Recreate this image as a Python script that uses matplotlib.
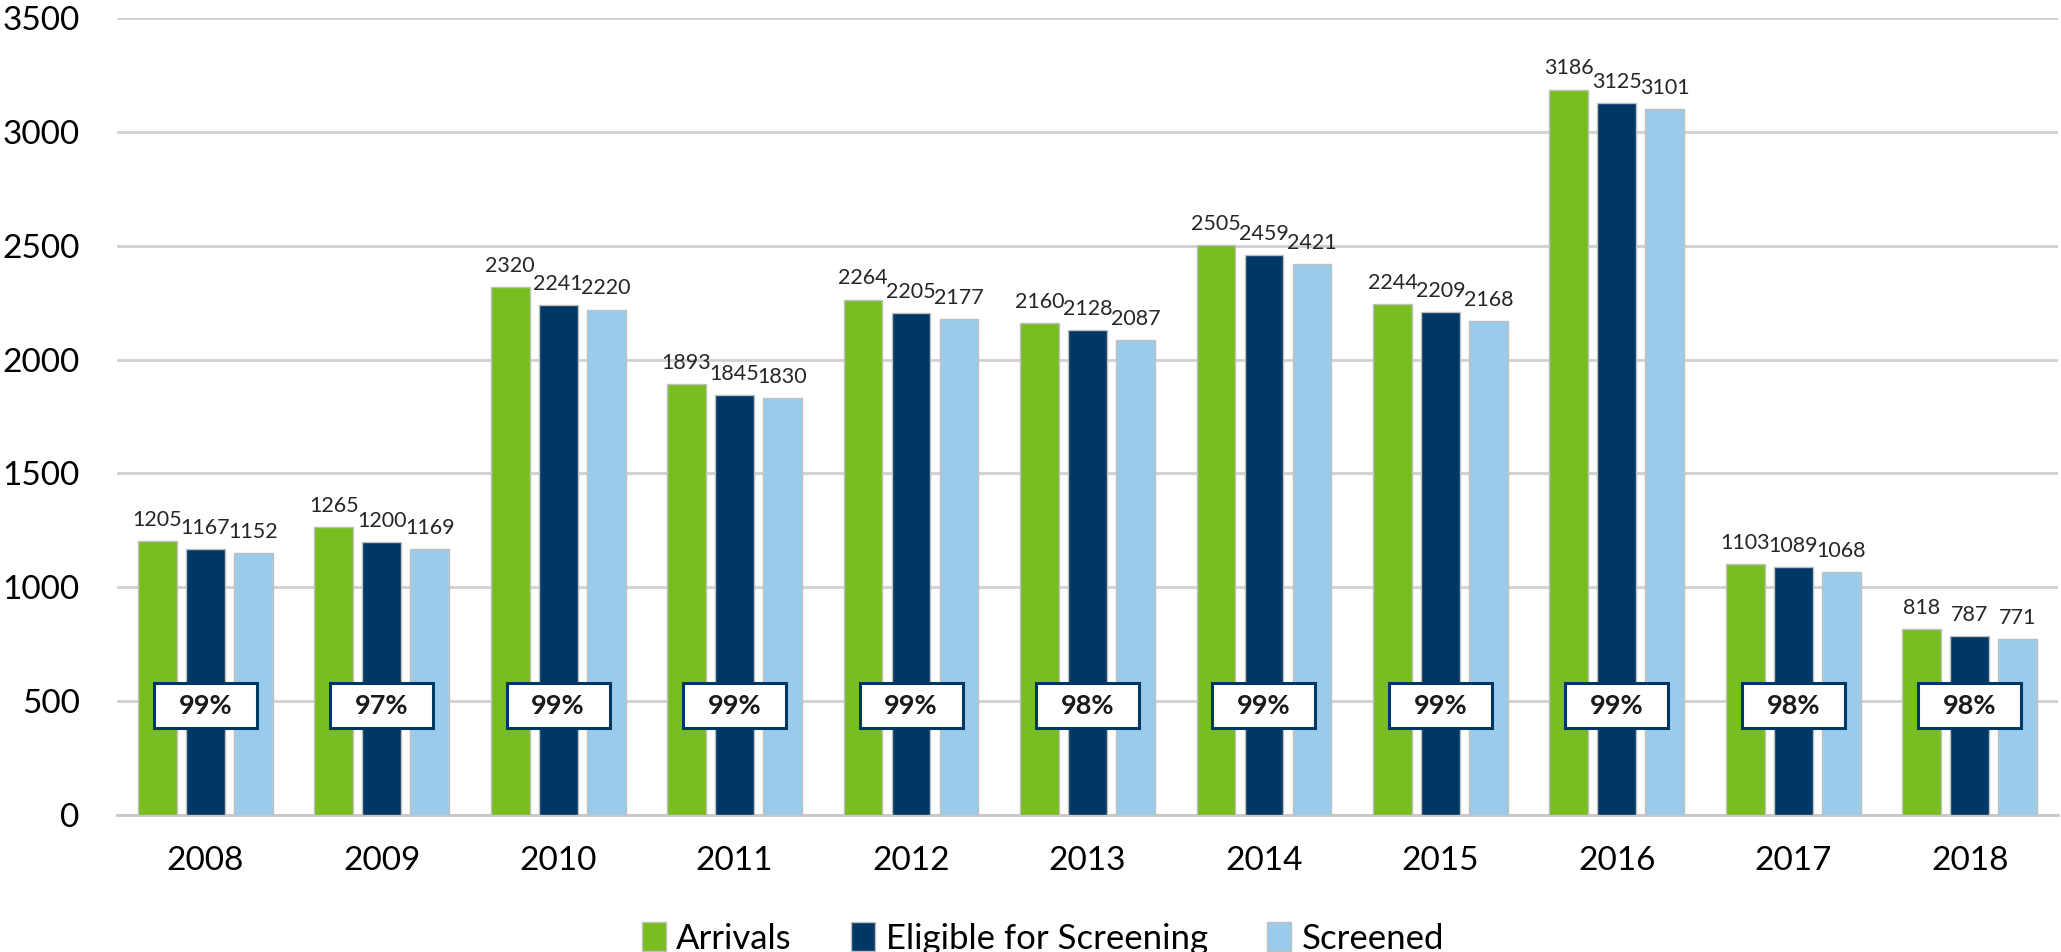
import numpy as np
import matplotlib.pyplot as plt
from matplotlib.patches import Rectangle

plt.rcParams['font.family'] = ['Lato', 'DejaVu Sans']

years = ['2008', '2009', '2010', '2011', '2012', '2013', '2014', '2015', '2016', '2017', '2018']
arrivals = [1205, 1265, 2320, 1893, 2264, 2160, 2505, 2244, 3186, 1103, 818]
eligible = [1167, 1200, 2241, 1845, 2205, 2128, 2459, 2209, 3125, 1089, 787]
screened = [1152, 1169, 2220, 1830, 2177, 2087, 2421, 2168, 3101, 1068, 771]
pct_screened = ['99%', '97%', '99%', '99%', '99%', '98%', '99%', '99%', '99%', '98%', '98%']

series = [
    ('Arrivals', arrivals, '#78BE20'),
    ('Eligible for Screening', eligible, '#003865'),
    ('Screened', screened, '#9BCBEB'),
]

# --------------------------------------------------
# figure / axes
# --------------------------------------------------
fig = plt.figure(figsize=(20.61, 9.52), dpi=100)
ax = fig.add_axes([0.0568, 0.1439, 0.9417, 0.8371])

x = np.arange(len(years))
width = 0.22
step = 0.272

for k, (name, vals, color) in enumerate(series):
    pos = x + (k - 1) * step
    ax.bar(pos, vals, width, color=color, edgecolor='#BFBFBF', linewidth=1,
           label=name, zorder=3)
    for xi, v in zip(pos, vals):
        ax.annotate(str(v), (xi, v), xytext=(0, 8), textcoords='offset points',
                    ha='center', va='bottom', fontsize=15.5, color='#262626')

# percentage boxes
box_w, box_h, box_y = 0.584, 197, 480
for xi, p in zip(x, pct_screened):
    ax.add_patch(Rectangle((xi - box_w / 2, box_y - box_h / 2), box_w, box_h,
                           facecolor='white', edgecolor='#003865', linewidth=2.2,
                           zorder=4))
    ax.text(xi, box_y, p, ha='center', va='center', fontsize=19.5,
            fontweight='bold', color='#1a1a1a', zorder=5)

ax.set_xlim(-0.5, len(years) - 0.5)
ax.set_ylim(0, 3500)
ax.set_yticks(np.arange(0, 3501, 500))
ax.set_xticks(x)
ax.set_xticklabels(years)
ax.tick_params(axis='both', length=0, labelsize=24, colors='#000000')
ax.tick_params(axis='y', pad=27)
ax.tick_params(axis='x', pad=22)

ax.grid(axis='y', color='#D0D0D0', linewidth=2, zorder=0)
ax.set_axisbelow(True)
for s in ['top', 'right', 'left']:
    ax.spines[s].set_visible(False)
ax.spines['bottom'].set_color('#C8C8C8')
ax.spines['bottom'].set_linewidth(2)

fig.legend(loc='center', bbox_to_anchor=(0.506, 0.014), ncol=3, frameon=False,
           fontsize=25, handlelength=0.7, handleheight=0.9, handletextpad=0.3,
           columnspacing=1.7)

fig.savefig('out.png', dpi=100)
